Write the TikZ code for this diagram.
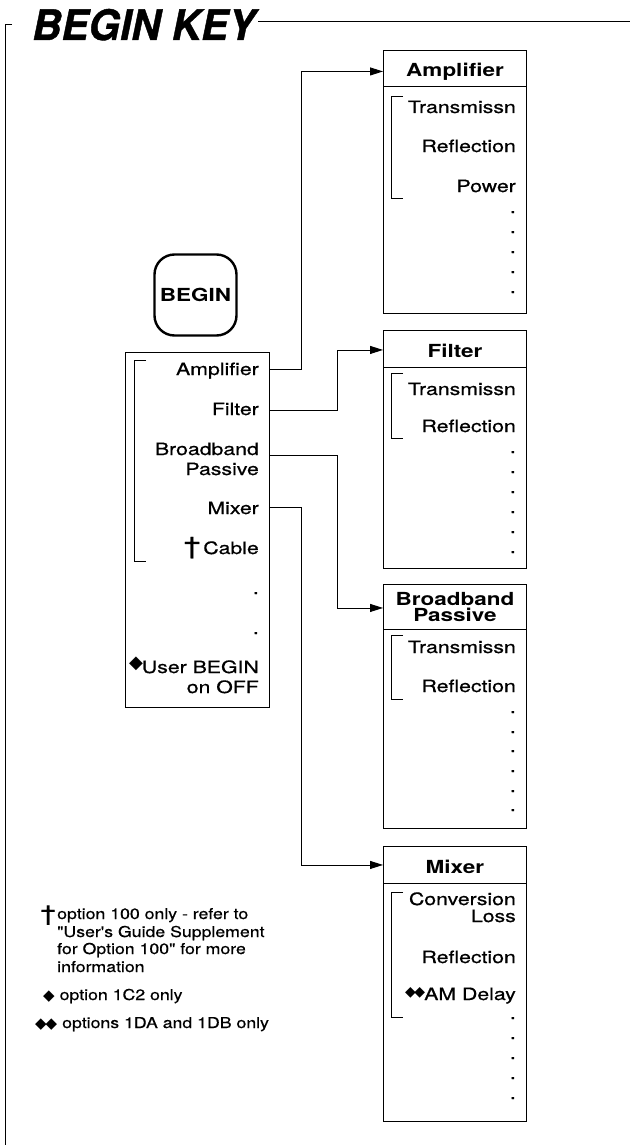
\documentclass[tikz,border=0pt]{standalone}
\usepackage{fontspec}
\usetikzlibrary{arrows.meta}
\newfontfamily\heros[FakeStretch=1.25,FakeBold=0.7]{TeX Gyre Heros}
\newfontfamily\herosb[FakeStretch=1.25]{TeX Gyre Heros Bold}
\newfontfamily\herosn[FakeStretch=1.18,FakeBold=0.5]{TeX Gyre Heros}
\newfontfamily\titlefont[FakeStretch=0.965,FakeBold=1]{TeX Gyre Heros}
\newfontfamily\symfont{DejaVu Sans}
\newcommand\dmd[2]{{\symfont\fontsize{#1}{#1}\selectfont\raisebox{#2}{◆}}}
\tikzset{
  itm/.style={font=\heros\fontsize{17}{16}\selectfont, anchor=base east, inner sep=0pt},
  hdr/.style={draw, line width=0.9pt, font=\herosb\fontsize{18}{16}\selectfont,
              align=center, minimum width=143pt, anchor=north west, inner sep=0pt},
  onel/.style={text height=16.5pt, text depth=0pt},
  bodybox/.style={draw, line width=0.9pt, minimum width=143pt, anchor=north west, inner sep=0pt},
  brk/.style={line width=0.6pt},
  frame/.style={line width=0.9pt},
  conn/.style={line width=0.9pt, -{Triangle[length=13pt,width=8pt]}},
  note/.style={font=\herosn\fontsize{15}{17.7}\selectfont, anchor=base west, inner sep=0pt},
}
\begin{document}
\begin{tikzpicture}[x=1pt,y=-1pt]
\useasboundingbox (0,0) rectangle (630,1145);
% ---------- title and frame
\node[font=\titlefont\bfseries\itshape\fontsize{42}{42}\selectfont, anchor=base west, inner sep=0pt] (title) at (32,40) {BEGIN KEY};
\coordinate (ftop) at (630,21);
\coordinate (fcorner) at (5,24);
\coordinate (fbottom) at (5,1145);
\draw[frame] ([xshift=3pt]title.east |- ftop) -- (ftop);
\draw[frame] ([xshift=7pt]fcorner) -- (fcorner) -- (fbottom);
% ---------- BEGIN key
\node[draw, line width=2.4pt, rounded corners=20pt, minimum width=82pt, minimum height=81pt,
      font=\herosb\fontsize{18}{18}\selectfont] (beginkey) at (195.5,295) {BEGIN};
% ---------- left menu
\node[bodybox, minimum width=144pt, minimum height=355pt] (menu) at (125,352) {};
\draw[brk] (146,360) -- (134,360) -- (134,561) -- (146,561);
\node[itm] (mAmp) at (259,375) {Amplifier};
\node[itm] (mFil) at (259,415) {Filter};
\node[itm] (mBb1) at (259,455) {Broadband};
\node[itm] (mBb2) at (259,475) {Passive};
\node[itm] (mMix) at (259,514) {Mixer};
\node[itm] (mCab) at (259,554) {{\fontsize{24}{24}\selectfont †}\,Cable};
\node[itm] (mD1) at (259,594) {.};
\node[itm] (mD2) at (259,634) {.};
\node[itm] (mUs1) at (259,673) {\dmd{18}{5pt}\kern-1pt User BEGIN};
\node[itm] (mUs2) at (259,693) {on OFF};
% ---------- Amplifier box
\node[hdr, onel, minimum height=36pt] (ampH) at (383,50) {Amplifier};
\node[bodybox, minimum height=227pt] (ampB) at (383,86) {};
\draw[brk] (403,96) -- (391,96) -- (391,198) -- (403,198);
\node[itm] (a1) at (516,113) {Transmissn};
\node[itm] (a2) at (516,152) {Reflection};
\node[itm] (a3) at (516,192) {Power};
\foreach \y/\n in {213/1,233/2,253/3,273/4,293/5} \node[itm] (ad\n) at (516,\y) {.};
% ---------- Filter box
\node[hdr, onel, minimum height=37pt] (filH) at (383,330) {Filter};
\node[bodybox, minimum height=201pt] (filB) at (383,367) {};
\draw[brk] (403,373) -- (391,373) -- (391,438) -- (403,438);
\node[itm] (f1) at (516,395) {Transmissn};
\node[itm] (f2) at (516,432) {Reflection};
\foreach \y/\n in {453/1,473/2,493/3,513/4,533/5,553/6} \node[itm] (fd\n) at (516,\y) {.};
% ---------- Broadband Passive box
\node[hdr, minimum height=45pt] (bbH) at (383,584) {Broadband\\Passive};
\node[bodybox, minimum height=199pt] (bbB) at (383,629) {};
\draw[brk] (403,635) -- (391,635) -- (391,699) -- (403,699);
\node[itm] (b1) at (516,653) {Transmissn};
\node[itm] (b2) at (516,692) {Reflection};
\foreach \y/\n in {713/1,733/2,752/3,772/4,792/5,811/6} \node[itm] (bd\n) at (516,\y) {.};
% ---------- Mixer box
\node[hdr, onel, minimum height=37pt] (mixH) at (383,846) {Mixer};
\node[bodybox, minimum height=238pt] (mixB) at (383,883) {};
\draw[brk] (403,892) -- (391,892) -- (391,1017) -- (403,1017);
\node[itm] (x1) at (516,905) {Conversion};
\node[itm] (x2) at (516,922) {Loss};
\node[itm] (x3) at (516,963) {Reflection};
\node[itm] (x4) at (516,1000) {\dmd{14}{4pt}\kern-1.5pt\dmd{14}{4pt}\kern-1pt AM Delay};
\foreach \y/\n in {1019/1,1039/2,1059/3,1079/4,1099/5} \node[itm] (xd\n) at (516,\y) {.};
% ---------- connectors
\coordinate (oAmp) at (menu.east |- 0,369);
\coordinate (oFil) at (menu.east |- 0,410);
\coordinate (oBb)  at (menu.east |- 0,455);
\coordinate (oMix) at (menu.east |- 0,507);
\draw[conn] (oAmp) -- ++(32,0) |- ([yshift=-3pt]ampH.west);
\draw[conn] (oFil) -- ++(68,0) |- ([yshift=-1pt]filH.west);
\draw[conn] (oBb)  -- ++(68,0) |- ([yshift=-1pt]bbH.west);
\draw[conn] (oMix) -- ++(32,0) |- (mixH.west);
% ---------- footnotes
\node[anchor=base east, inner sep=0pt, font=\heros\fontsize{22}{22}\selectfont] (n0) at (56,921) {†};
\node[note] (n1) at (57,919) {option 100 only - refer to};
\node[note] (n2) at (57,937) {"User's Guide Supplement};
\node[note] (n3) at (57,954) {for Option 100" for more};
\node[note] (n4) at (57,972) {information};
\node[note] (n5) at (43,1000) {\dmd{15}{0pt}\ option 1C2 only};
\node[note] (n6) at (35,1028) {\dmd{15}{0pt}\kern-1pt\dmd{15}{0pt}\ options 1DA and 1DB only};
\end{tikzpicture}
\end{document}
